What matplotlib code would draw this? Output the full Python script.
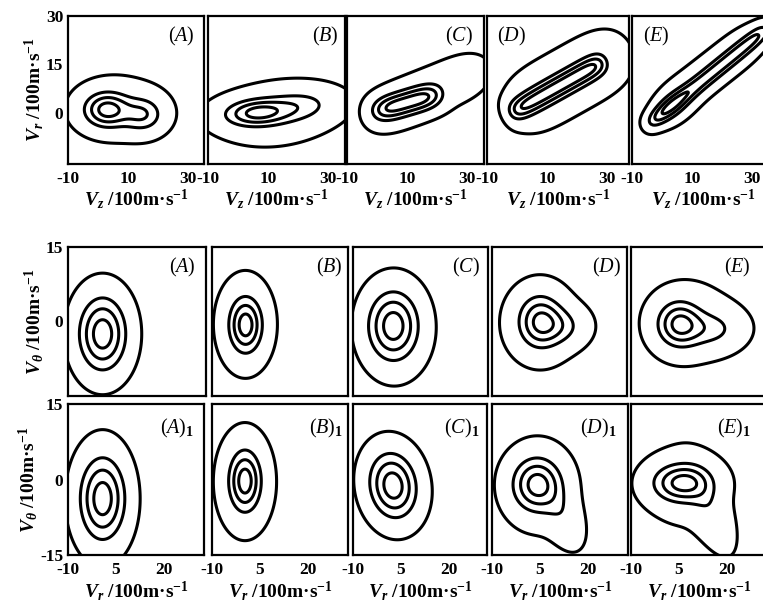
import numpy as np
import matplotlib
matplotlib.use('Agg')
import matplotlib.pyplot as plt

plt.rcParams['font.family'] = ['Liberation Serif', 'DejaVu Serif']
plt.rcParams['mathtext.fontset'] = 'custom'
plt.rcParams['mathtext.rm'] = 'Liberation Serif:bold'
plt.rcParams['mathtext.it'] = 'Liberation Serif:italic:bold'
plt.rcParams['mathtext.bf'] = 'Liberation Serif:bold'
plt.rcParams['mathtext.sf'] = 'Liberation Serif:italic'

# ---------------- data ----------------
panel_letters = ['A', 'B', 'C', 'D', 'E']
contour_levels = [0.05, 0.35, 0.6, 0.85]          # fraction of the peak density

top_xticks = [-10, 10, 30]
top_xticklabels = ['-10', '10', '30']
top_yticks = [0, 15, 30]
top_yticklabels = ['0', '15', '30']
low_xticks = [-10, 5, 20]
low_xticklabels = ['-10', '5', '20']
mid_yticks = [0, 15]
mid_yticklabels = ['0', '15']
bot_yticks = [-15, 0, 15]
bot_yticklabels = ['-15', '0', '15']

# distribution components:
# (centre_x, centre_y, sigma_major, sigma_minor, angle_deg, weight, exponent_major)
top_A = [(3, 1.0, 5.0, 3.5, 0, 1.0, 2), (15, -0.5, 4.5, 3.5, 0, 0.6, 2),
         (7, 1.5, 11, 7, 0, 0.15, 2)]
top_B = [(6, 0, 7.0, 2.7, 3, 1.0, 2), (20, 2, 8, 3.3, 5, 0.5, 2),
         (12, -0.5, 16, 7.5, 5, 0.15, 2)]
top_C = [(10, 3.2, 9.6, 2.6, 15, 1.0, 4), (17, 6.3, 19, 5.5, 22, 0.15, 4)]
top_D = [(13.5, 8, 16.1, 2.4, 27.5, 1.0, 8), (17, 9.8, 19, 7.0, 27.5, 0.2, 4)]
top_E = [(15.5, 11.5, 23.2, 1.8, 37, 1.0, 10), (3, 2, 5, 3, 37, 0.5, 2),
         (18, 14, 17, 4.5, 36, 0.2, 4)]

mid_A = [(0.8, -2.5, 5.0, 5.0, 0, 1.0, 2)]
mid_B = [(0.5, -0.7, 3.3, 3.6, 0, 1.0, 2), (0.4, -0.5, 6.0, 6.5, 0, 0.2, 2)]
mid_C = [(2.5, -0.8, 5.2, 4.6, 0, 1.0, 2), (3.5, -2, 6.5, 6, 0, 0.15, 2)]
mid_D = [(5, 0, 4.5, 3.5, 0, 1.0, 2), (12, -1, 5, 2.5, 0, 0.4, 2),
         (5, -0.5, 9, 6.5, 0, 0.12, 2)]
mid_E = [(5, -0.5, 4.5, 3.0, 0, 1.0, 2), (15, -1.5, 6, 2.5, 0, 0.45, 2),
         (9, 0, 11, 6.5, 0, 0.12, 2)]

bot_A = [(0.8, -3.8, 4.8, 5.6, 0, 1.0, 2)]
bot_B = [(0.3, -0.3, 3.2, 3.9, 0, 1.0, 2), (0.3, -0.5, 6.0, 7.0, 0, 0.2, 2)]
bot_C = [(2.5, -1.2, 5.1, 4.3, -20, 1.0, 2)]
bot_D = [(4, -1.0, 5, 3.5, 0, 1.0, 2), (12, -7, 5, 3, -45, 0.25, 2),
         (4.5, -1.5, 8.5, 7, 0, 0.1, 2)]
bot_E = [(6, -0.7, 6, 2.5, 0, 1.0, 2), (15, -6.5, 6, 3, -50, 0.25, 2),
         (7, -1.5, 10, 7, 0, 0.1, 2)]

top_panels = [top_A, top_B, top_C, top_D, top_E]
mid_panels = [mid_A, mid_B, mid_C, mid_D, mid_E]
bot_panels = [bot_A, bot_B, bot_C, bot_D, bot_E]

# ---------------- helpers ----------------
W, H = 763, 607


def box(l, r, t, b):
    return [l / W, 1 - b / H, (r - l) / W, (b - t) / H]


def density(comps, X, Y):
    Z = np.zeros_like(X)
    for cx, cy, s1, s2, ang, w, p in comps:
        a = np.deg2rad(ang)
        dx, dy = X - cx, Y - cy
        u = dx * np.cos(a) + dy * np.sin(a)
        v = -dx * np.sin(a) + dy * np.cos(a)
        Z += w * np.exp(-0.5 * (np.abs(u / s1) ** p + (v / s2) ** 2))
    return Z


def draw(ax, comps, xlim, ylim):
    xs = np.linspace(xlim[0] - 15, xlim[1] + 15, 450)
    ys = np.linspace(ylim[0] - 15, ylim[1] + 15, 450)
    X, Y = np.meshgrid(xs, ys)
    Z = density(comps, X, Y)
    Z = Z / Z.max()
    ax.contour(X, Y, Z, levels=contour_levels, colors='black', linewidths=2.2)
    ax.set_xlim(*xlim)
    ax.set_ylim(*ylim)
    for s in ax.spines.values():
        s.set_linewidth(1.6)
    ax.tick_params(length=0, labelsize=12.5)


TICKFONT = dict(fontweight='bold', fontsize=12.5)
LABFONT = dict(fontweight='bold', fontsize=14)
PANFONT = dict(fontsize=14.5)

fig = plt.figure(figsize=(W / 100, H / 100), dpi=100)

top_boxes = [(68, 204), (208, 345), (347, 484), (487, 629), (632, 774)]
mid_boxes = [(68, 206), (212, 348), (353, 488), (492, 627), (631, 767)]
bot_boxes = [(68, 204), (212, 348), (353, 487), (492, 628), (631, 767)]

top_label_pos = [(0.83, 0.86), (0.86, 0.86), (0.82, 0.86), (0.17, 0.86), (0.17, 0.86)]
mid_label_pos = [(0.83, 0.86), (0.86, 0.86), (0.84, 0.86), (0.85, 0.86), (0.78, 0.86)]
bot_label_pos = [(0.80, 0.84), (0.84, 0.84), (0.81, 0.84), (0.78, 0.84), (0.76, 0.84)]

xl_top = r'$V_{z}$ /100m·s$^{-1}$'
xl_low = r'$V_{r}$ /100m·s$^{-1}$'
yl_top = r'$V_{r}$ /100m·s$^{-1}$'
yl_low = r'$V_{\theta}$ /100m·s$^{-1}$'

for i in range(5):
    # top row
    l, r = top_boxes[i]
    ax = fig.add_axes(box(l, r, 16, 164))
    draw(ax, top_panels[i], (-10, -10 + (r - l) / 3.0), (-15.8, 30))
    ax.set_xticks(top_xticks)
    ax.set_xticklabels(top_xticklabels, **TICKFONT)
    ax.tick_params(axis='x', pad=5)
    if i == 0:
        ax.set_yticks(top_yticks)
        ax.set_yticklabels(top_yticklabels, **TICKFONT)
        ax.set_ylabel(yl_top, labelpad=0, **LABFONT)
    else:
        ax.set_yticks([])
    ax.set_xlabel(xl_top, labelpad=0, **LABFONT)
    px, py = top_label_pos[i]
    ax.text(px, py, '($\\mathsf{%s}$)' % panel_letters[i], transform=ax.transAxes,
            ha='center', va='center', **PANFONT)

    # middle row
    l, r = mid_boxes[i]
    ax = fig.add_axes(box(l, r, 247, 396))
    draw(ax, mid_panels[i], (-10, -10 + (r - l) / 3.2), (-15, 15))
    ax.set_xticks([])
    if i == 0:
        ax.set_yticks(mid_yticks)
        ax.set_yticklabels(mid_yticklabels, **TICKFONT)
        ax.set_ylabel(yl_low, labelpad=0, **LABFONT)
    else:
        ax.set_yticks([])
    px, py = mid_label_pos[i]
    ax.text(px, py, '($\\mathsf{%s}$)' % panel_letters[i], transform=ax.transAxes,
            ha='center', va='center', **PANFONT)

    # bottom row
    l, r = bot_boxes[i]
    ax = fig.add_axes(box(l, r, 404, 555))
    draw(ax, bot_panels[i], (-10, -10 + (r - l) / 3.2), (-15, 15))
    ax.set_xticks(low_xticks)
    ax.set_xticklabels(low_xticklabels, **TICKFONT)
    ax.tick_params(axis='x', pad=5)
    if i == 0:
        ax.set_yticks(bot_yticks)
        ax.set_yticklabels(bot_yticklabels, **TICKFONT)
        ax.set_ylabel(yl_low, labelpad=0, **LABFONT)
    else:
        ax.set_yticks([])
    ax.set_xlabel(xl_low, labelpad=1, **LABFONT)
    px, py = bot_label_pos[i]
    ax.text(px, py, '($\\mathsf{%s}$)$_{1}$' % panel_letters[i], transform=ax.transAxes,
            ha='center', va='center', **PANFONT)

fig.savefig('out.png', dpi=100)
